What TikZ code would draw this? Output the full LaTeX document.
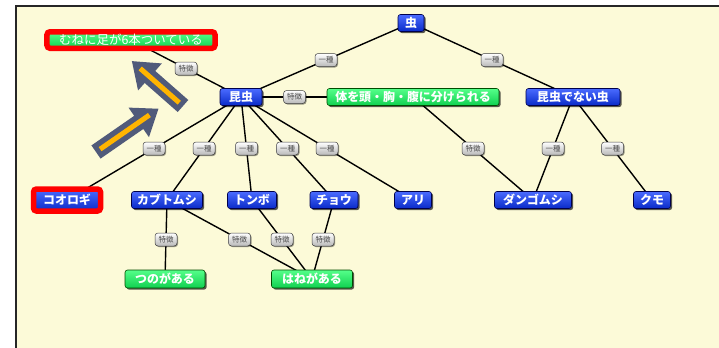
\documentclass[tikz,border=0pt]{standalone}
\usepackage{fontspec}
\setmainfont{Noto Sans CJK JP}
\usetikzlibrary{shadows}
\definecolor{cream}{HTML}{FCFAD8}
\definecolor{btop}{HTML}{4A6BFF}
\definecolor{bbot}{HTML}{0A2BC8}
\definecolor{gtop}{HTML}{55FF8A}
\definecolor{gbot}{HTML}{10D050}
\definecolor{slate}{HTML}{505A7A}
\definecolor{arrowor}{HTML}{FFB400}
\definecolor{redbox}{HTML}{FF0000}
\pgfdeclarelayer{bg}
\pgfdeclarelayer{edges}
\pgfsetlayers{bg,edges,main}
\tikzset{
  bluebox/.style={draw=blue!30!black, line width=0.6bp, rounded corners=2.5bp,
    top color=btop, bottom color=bbot, text=white,
    font=\fontsize{12}{12}\selectfont\bfseries, inner xsep=3bp, inner ysep=0pt,
    minimum height=17bp,
    drop shadow={shadow xshift=1.6bp, shadow yshift=-1.6bp, fill=black, opacity=0.65}},
  greenbox/.style={draw=green!30!black, line width=0.6bp, rounded corners=2.5bp,
    top color=gtop, bottom color=gbot, text=white,
    font=\fontsize{12}{12}\selectfont\bfseries, inner xsep=3bp, inner ysep=0pt,
    minimum height=18bp,
    drop shadow={shadow xshift=1.6bp, shadow yshift=-1.6bp, fill=black, opacity=0.65}},
  redframe/.style={draw=redbox, line width=5.5bp, rounded corners=3bp},
  lab/.style={draw=gray!50!black, line width=0.5bp, rounded corners=3bp,
    top color=white, bottom color=gray!55, text=black!70,
    font=\fontsize{7.5}{7.5}\selectfont, inner xsep=1bp, inner ysep=0pt,
    minimum height=13bp, minimum width=22bp,
    drop shadow={shadow xshift=1bp, shadow yshift=-1bp, fill=black, opacity=0.4}},
  edge/.style={draw=black, line width=1.4bp},
  bigarrow/.style={fill=slate},
  arrowline/.style={draw=arrowor, line width=5bp}
}
\begin{document}
\begin{tikzpicture}[x=1bp,y=-1bp]
\useasboundingbox (0,0) rectangle (719,347);
% nodes
\node[bluebox, minimum width=26bp] (mushi) at (411,23) {虫};
\node[bluebox, minimum width=42bp] (konchu) at (241,97) {昆虫};
\node[greenbox, minimum width=172bp, minimum height=17bp] (karada) at (413,97) {体を頭・胸・腹に分けられる};
\node[bluebox, minimum width=94bp] (nai) at (573,97) {昆虫でない虫};
\node[greenbox, redframe, minimum width=168bp, minimum height=16.5bp,
      font=\fontsize{12.5}{12.5}\selectfont, drop shadow={opacity=0}] (mune) at (131,40) {むねに足が6本ついている};
\node[bluebox, redframe, minimum width=67bp, minimum height=22bp, drop shadow={opacity=0}] (koorogi) at (67,200) {コオロギ};
\node[bluebox, minimum width=71bp] (kabuto) at (167,200) {カブトムシ};
\node[bluebox, minimum width=49bp] (tonbo) at (252,200) {トンボ};
\node[bluebox, minimum width=48bp] (chou) at (334,200) {チョウ};
\node[bluebox, minimum width=37bp] (ari) at (413,200) {アリ};
\node[bluebox, minimum width=77bp] (dango) at (533,200) {ダンゴムシ};
\node[bluebox, minimum width=37bp] (kumo) at (652,200) {クモ};
\node[greenbox, minimum width=80bp] (tsuno) at (165,279) {つのがある};
\node[greenbox, minimum width=81bp] (hane) at (312,279) {はねがある};
% edges
\begin{pgfonlayer}{edges}
\path[edge] (mushi.center) -- node[lab]{一種} (konchu.center);
\path[edge] (mushi.center) -- node[lab]{一種} (nai.center);
\path[edge] (konchu.center) -- node[lab]{特徴} (mune.center);
\path[edge] (konchu.east) -- node[lab]{特徴} (karada.west);
\path[edge] (konchu.center) -- node[lab]{一種} (koorogi.center);
\path[edge] (konchu.center) -- node[lab]{一種} (kabuto.center);
\path[edge] (konchu.center) -- node[lab]{一種} (tonbo.center);
\path[edge] (konchu.center) -- node[lab]{一種} (chou.center);
\path[edge] (konchu.center) -- node[lab]{一種} (ari.center);
\path[edge] (karada.center) -- node[lab]{特徴} (dango.center);
\path[edge] (nai.center) -- node[lab]{一種} (dango.center);
\path[edge] (nai.center) -- node[lab]{一種} (kumo.center);
\path[edge] (kabuto.center) -- node[lab]{特徴} (tsuno.center);
\path[edge] (kabuto.center) -- node[lab]{特徴} (hane.center);
\path[edge] (tonbo.center) -- node[lab]{特徴} (hane.center);
\path[edge] (chou.center) -- node[lab]{特徴} (hane.center);
\end{pgfonlayer}
% background frame
\begin{pgfonlayer}{bg}
\fill[white] (0,0) rectangle (719,347);
\filldraw[fill=cream, draw=black!85, line width=2bp] (16,6) rectangle (740,360);
\end{pgfonlayer}
% big arrows
\begin{scope}[shift={(183,106)}, rotate=138.7]
  \fill[bigarrow] (0,-8) -- (44,-8) -- (44,-18) -- (68,0) -- (44,18) -- (44,8) -- (0,8) -- cycle;
  \draw[arrowline] (5,0) -- (57,0);
\end{scope}
\begin{scope}[shift={(96,152)}, rotate=34.7]
  \fill[bigarrow] (0,-8) -- (52,-8) -- (52,-18) -- (76,0) -- (52,18) -- (52,8) -- (0,8) -- cycle;
  \draw[arrowline] (5,0) -- (65,0);
\end{scope}
\end{tikzpicture}
\end{document}
